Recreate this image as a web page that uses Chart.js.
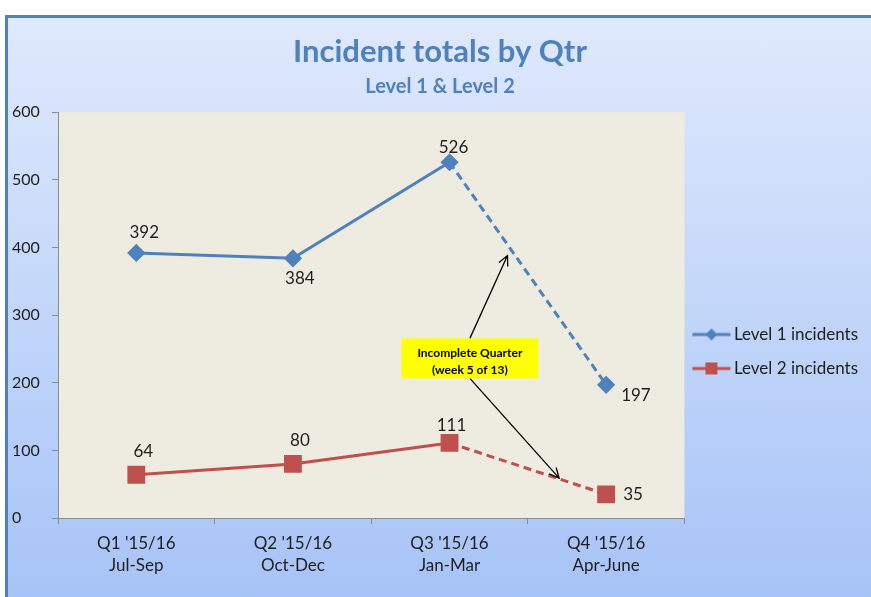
<!DOCTYPE html>
<html>
<head>
<meta charset="utf-8">
<title>Incident totals by Qtr</title>
<script src="https://cdn.jsdelivr.net/npm/chart.js@4.4.1/dist/chart.umd.min.js"></script>
<style>
    body { margin: 0; background: #fff; }
    #wrap { position: relative; width: 871px; height: 597px; overflow: hidden; }
    #frame {
        position: absolute; left: 5px; top: 15px; width: 880px; height: 590px;
        border-left: 3px solid #4f81bd; border-top: 3px solid #4f81bd;
        background: linear-gradient(180deg, #dfe9fc 0%, #a6c3f7 100%);
    }
    canvas { position: absolute; left: 0; top: 0; }
</style>
</head>
<body>
<div id="wrap">
    <div id="frame"></div>
    <canvas id="incidentChart" width="871" height="597"></canvas>
</div>
<script>
// -----------------------------
// DATA
// -----------------------------
const quarters = [
    ["Q1 '15/16", "Jul-Sep"],
    ["Q2 '15/16", "Oct-Dec"],
    ["Q3 '15/16", "Jan-Mar"],
    ["Q4 '15/16", "Apr-June"]
];
const level1 = [392, 384, 526, 197];
const level2 = [64, 80, 111, 35];
const yMin = 0;
const yMax = 600;
const yStep = 100;

// last quarter is incomplete -> dashed segment into it
const incompleteIndex = 3;

// value label offsets from each point: [dx, dy, align]
const level1LabelOffset = [[8, -20, "center"], [7, 20, "center"], [4, -15, "center"], [15, 11, "left"]];
const level2LabelOffset = [[7, -23, "center"], [7, -23, "center"], [2, -17, "center"], [17, 0, "left"]];

// annotation (data units: x = category index, y = value)
const noteLines = ["Incomplete Quarter", "(week 5 of 13)"];
const noteAt = { x: 2.13, y: 236 };
const noteArrowTips = [{ x: 2.37, y: 388 }, { x: 2.70, y: 59 }];

const FONT = "Lato, 'Open Sans', sans-serif";
const BLUE = "#4f81bd";
const RED = "#c0504d";
const TEXT = "#1e1e1e";

// -----------------------------
// LEGEND ICONS (line + marker)
// -----------------------------
function makeIcon(color, shape) {
    const c = document.createElement("canvas");
    c.width = 60;
    c.height = 16;
    const g = c.getContext("2d");
    g.strokeStyle = color;
    g.lineWidth = 3;
    g.beginPath();
    g.moveTo(9, 8);
    g.lineTo(47, 8);
    g.stroke();
    g.fillStyle = color;
    if (shape === "diamond") {
        g.beginPath();
        g.moveTo(28, 2); g.lineTo(34, 8); g.lineTo(28, 14); g.lineTo(22, 8);
        g.closePath();
        g.fill();
    } else {
        g.fillRect(22, 2, 12, 12);
    }
    return c;
}

// -----------------------------
// PLUGINS
// -----------------------------
const plotBackground = {
    id: "plotBackground",
    beforeDraw(chart) {
        const a = chart.chartArea;
        const ctx = chart.ctx;
        ctx.save();
        ctx.fillStyle = "#eeece1";
        ctx.fillRect(a.left, a.top, a.right - a.left, a.bottom - a.top);
        ctx.restore();
    }
};

const valueLabels = {
    id: "valueLabels",
    afterDatasetsDraw(chart) {
        const ctx = chart.ctx;
        const offsets = [level1LabelOffset, level2LabelOffset];
        ctx.save();
        ctx.font = "17px " + FONT;
        ctx.fillStyle = TEXT;
        ctx.textBaseline = "middle";
        chart.data.datasets.forEach((ds, i) => {
            const meta = chart.getDatasetMeta(i);
            meta.data.forEach((pt, j) => {
                const [dx, dy, align] = offsets[i][j];
                ctx.textAlign = align;
                ctx.fillText(String(ds.data[j]), pt.x + dx, pt.y + dy);
            });
        });
        ctx.restore();
    }
};

function arrow(ctx, x1, y1, x2, y2) {
    const ang = Math.atan2(y2 - y1, x2 - x1);
    const head = 11;
    ctx.beginPath();
    ctx.moveTo(x1, y1);
    ctx.lineTo(x2, y2);
    ctx.moveTo(x2 - head * Math.cos(ang - 0.45), y2 - head * Math.sin(ang - 0.45));
    ctx.lineTo(x2, y2);
    ctx.lineTo(x2 - head * Math.cos(ang + 0.45), y2 - head * Math.sin(ang + 0.45));
    ctx.stroke();
}

const incompleteNote = {
    id: "incompleteNote",
    afterDatasetsDraw(chart) {
        const ctx = chart.ctx;
        const xs = chart.scales.x;
        const ys = chart.scales.y;
        const cx = xs.getPixelForValue(noteAt.x);
        const cy = ys.getPixelForValue(noteAt.y);
        const w = 137, h = 40;

        ctx.save();
        ctx.strokeStyle = "#000";
        ctx.lineWidth = 1.3;
        arrow(ctx, cx, cy - h / 2,
            xs.getPixelForValue(noteArrowTips[0].x), ys.getPixelForValue(noteArrowTips[0].y));
        arrow(ctx, cx, cy + h / 2,
            xs.getPixelForValue(noteArrowTips[1].x), ys.getPixelForValue(noteArrowTips[1].y));

        ctx.fillStyle = "#ffff00";
        ctx.fillRect(cx - w / 2, cy - h / 2, w, h);
        ctx.fillStyle = "#000";
        ctx.font = "bold 12px " + FONT;
        ctx.textAlign = "center";
        ctx.textBaseline = "middle";
        ctx.fillText(noteLines[0], cx, cy - 5);
        ctx.fillText(noteLines[1], cx, cy + 12);
        ctx.restore();
    }
};

// -----------------------------
// CHART
// -----------------------------
const dashInto = (ctx) => ctx.p1DataIndex >= incompleteIndex ? [8, 5] : undefined;

const ctx = document.getElementById("incidentChart").getContext("2d");

new Chart(ctx, {
    type: "line",
    data: {
        labels: quarters,
        datasets: [{
            label: "Level 1 incidents",
            data: level1,
            borderColor: BLUE,
            backgroundColor: BLUE,
            borderWidth: 3,
            pointStyle: "rectRot",
            pointRadius: 7,
            pointHoverRadius: 7,
            tension: 0,
            segment: { borderDash: dashInto }
        }, {
            label: "Level 2 incidents",
            data: level2,
            borderColor: RED,
            backgroundColor: RED,
            borderWidth: 3,
            pointStyle: "rect",
            pointRadius: 10.5,
            pointHoverRadius: 10.5,
            tension: 0,
            segment: { borderDash: dashInto }
        }]
    },
    options: {
        responsive: false,
        animation: false,
        layout: { padding: { left: 12, right: 3, top: 0, bottom: 0 } },
        plugins: {
            title: {
                display: true,
                text: "Incident totals by Qtr",
                color: BLUE,
                font: { family: FONT, size: 31, weight: "bold" },
                padding: { top: 33, bottom: 4 }
            },
            subtitle: {
                display: true,
                text: "Level 1 & Level 2",
                color: BLUE,
                font: { family: FONT, size: 20, weight: "bold" },
                padding: { top: 0, bottom: 14 }
            },
            legend: {
                position: "right",
                // empty title only pushes the two entries down to mid-height
                title: {
                    display: true,
                    text: " ",
                    color: "rgba(0,0,0,0)",
                    font: { size: 10 },
                    padding: { top: 94, bottom: 0 }
                },
                labels: {
                    usePointStyle: true,
                    pointStyleWidth: 24,
                    color: TEXT,
                    font: { family: FONT, size: 17 },
                    padding: 17,
                    generateLabels(chart) {
                        const shapes = ["diamond", "square"];
                        return chart.data.datasets.map((ds, i) => ({
                            text: ds.label,
                            pointStyle: makeIcon(ds.borderColor, shapes[i]),
                            fillStyle: ds.borderColor,
                            strokeStyle: ds.borderColor,
                            lineWidth: 0,
                            fontColor: TEXT,
                            hidden: false,
                            datasetIndex: i
                        }));
                    }
                }
            },
            tooltip: { enabled: false }
        },
        scales: {
            x: {
                offset: true,
                grid: {
                    offset: true,
                    drawOnChartArea: false,
                    tickLength: 6,
                    color: "#8c8c8c"
                },
                border: { color: "#8c8c8c", width: 1 },
                ticks: {
                    color: TEXT,
                    font: { family: FONT, size: 17, lineHeight: 1.3 },
                    padding: 8,
                    maxRotation: 0
                },
                afterFit(scale) { scale.height = 79; }
            },
            y: {
                min: yMin,
                max: yMax,
                grid: {
                    drawOnChartArea: false,
                    tickLength: 6,
                    color: "#8c8c8c"
                },
                border: { color: "#8c8c8c", width: 1 },
                ticks: {
                    stepSize: yStep,
                    color: TEXT,
                    font: { family: FONT, size: 16 },
                    crossAlign: "far"
                },
                afterFit(scale) { scale.width = 46; }
            }
        }
    },
    plugins: [plotBackground, valueLabels, incompleteNote]
});
</script>
</body>
</html>
